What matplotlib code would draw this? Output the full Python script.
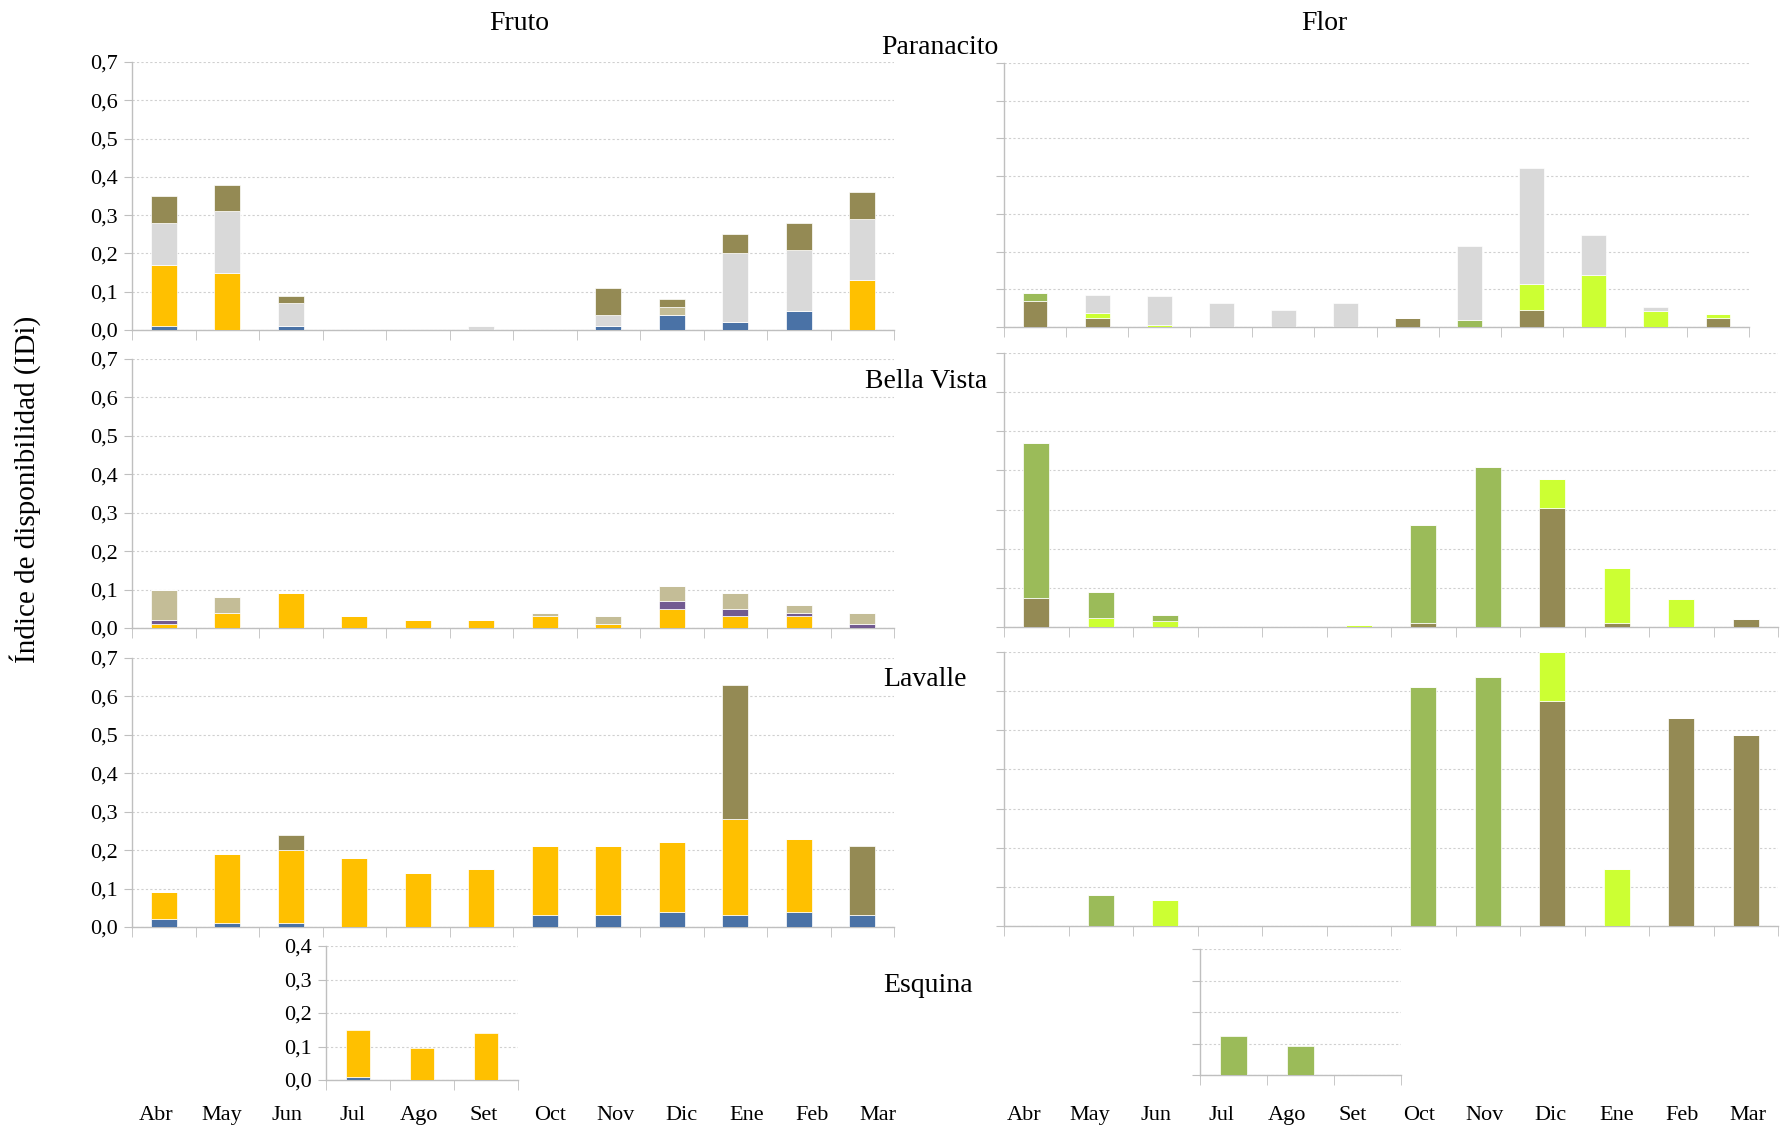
import matplotlib.pyplot as plt

FONT = ['Liberation Serif', 'DejaVu Serif']
plt.rcParams['font.family'] = FONT

meses = ['Abr', 'May', 'Jun', 'Jul', 'Ago', 'Set', 'Oct', 'Nov', 'Dic', 'Ene', 'Feb', 'Mar']
meses_esquina = ['Jul', 'Ago', 'Set']

# Fruto: stacked bottom -> top: azul, amarillo, violeta, beige, gris, oliva
par_fr_azul = [0.01, 0, 0.01, 0, 0, 0, 0, 0.01, 0.04, 0.02, 0.05, 0]
par_fr_amarillo = [0.16, 0.15, 0, 0, 0, 0, 0, 0, 0, 0, 0, 0.13]
par_fr_violeta = [0] * 12
par_fr_beige = [0, 0, 0, 0, 0, 0, 0, 0, 0.02, 0, 0, 0]
par_fr_gris = [0.11, 0.16, 0.06, 0, 0, 0.01, 0, 0.03, 0, 0.18, 0.16, 0.16]
par_fr_oliva = [0.07, 0.07, 0.02, 0, 0, 0, 0, 0.07, 0.02, 0.05, 0.07, 0.07]

bv_fr_azul = [0] * 12
bv_fr_amarillo = [0.01, 0.04, 0.09, 0.03, 0.02, 0.02, 0.03, 0.01, 0.05, 0.03, 0.03, 0]
bv_fr_violeta = [0.01, 0, 0, 0, 0, 0, 0, 0, 0.02, 0.02, 0.01, 0.01]
bv_fr_beige = [0.08, 0.04, 0, 0, 0, 0, 0.01, 0.02, 0.04, 0.04, 0.02, 0.03]
bv_fr_gris = [0] * 12
bv_fr_oliva = [0] * 12

lav_fr_azul = [0.02, 0.01, 0.01, 0, 0, 0, 0.03, 0.03, 0.04, 0.03, 0.04, 0.03]
lav_fr_amarillo = [0.07, 0.18, 0.19, 0.18, 0.14, 0.15, 0.18, 0.18, 0.18, 0.25, 0.19, 0]
lav_fr_violeta = [0] * 12
lav_fr_beige = [0] * 12
lav_fr_gris = [0] * 12
lav_fr_oliva = [0, 0, 0.04, 0, 0, 0, 0, 0, 0, 0.35, 0, 0.18]

esq_fr_azul = [0.01, 0, 0]
esq_fr_amarillo = [0.14, 0.095, 0.14]

# Flor: stacked bottom -> top: oliva, lima, verde, gris
par_fl_oliva = [0.068, 0.024, 0, 0, 0, 0, 0.024, 0, 0.046, 0, 0, 0.024]
par_fl_lima = [0, 0.014, 0.005, 0, 0, 0, 0, 0, 0.067, 0.137, 0.043, 0.011]
par_fl_verde = [0.023, 0, 0, 0, 0, 0, 0, 0.019, 0, 0, 0, 0]
par_fl_gris = [0, 0.048, 0.078, 0.064, 0.044, 0.064, 0, 0.196, 0.308, 0.107, 0.009, 0]

bv_fl_oliva = [0.073, 0, 0, 0, 0, 0, 0.01, 0, 0.303, 0.01, 0, 0.02]
bv_fl_lima = [0, 0.022, 0.016, 0, 0, 0.004, 0, 0, 0.076, 0.141, 0.071, 0]
bv_fl_verde = [0.397, 0.067, 0.014, 0, 0, 0, 0.25, 0.408, 0, 0, 0, 0]
bv_fl_gris = [0] * 12

lav_fl_oliva = [0, 0, 0, 0, 0, 0, 0, 0, 0.576, 0, 0.531, 0.487]
lav_fl_lima = [0, 0, 0.067, 0, 0, 0, 0, 0, 0.124, 0.146, 0, 0]
lav_fl_verde = [0, 0.078, 0, 0, 0, 0, 0.61, 0.635, 0, 0, 0, 0]
lav_fl_gris = [0] * 12

esq_fl_verde = [0.125, 0.093, 0]

col_fruto = ['#4A72A6', '#FFC000', '#725A91', '#C4BD97', '#D9D9D9', '#948A54']
col_flor = ['#948A54', '#CCFF33', '#9BBB59', '#D9D9D9']

W, H = 1782, 1127
fig = plt.figure(figsize=(W / 100, H / 100), dpi=100)


def px_axes(x0, x1, ytop, ybot):
    return fig.add_axes([x0 / W, 1 - ybot / H, (x1 - x0) / W, (ybot - ytop) / H])


def stacked(ax, cats, series, colors, ymax, labels=True, width=0.41):
    x = list(range(len(cats)))
    bottom = [0.0] * len(cats)
    for vals, c in zip(series, colors):
        ax.bar(x, vals, width, bottom=bottom, color=c, edgecolor='white',
               linewidth=0.5, zorder=3)
        bottom = [b + v for b, v in zip(bottom, vals)]
    ax.set_xlim(-0.5, len(cats) - 0.5)
    ax.set_ylim(0, ymax)
    n = int(round(ymax * 10))
    ticks = [i / 10 for i in range(n + 1)]
    ax.set_yticks(ticks)
    if labels:
        ax.set_yticklabels([('%.1f' % t).replace('.', ',') for t in ticks],
                           fontsize=16)
    else:
        ax.set_yticklabels([])
    ax.set_xticks(x)
    ax.set_xticklabels([])
    ax.set_xticks([i - 0.5 for i in range(len(cats) + 1)], minor=True)
    ax.tick_params(axis='x', which='major', length=0)
    ax.tick_params(axis='x', which='minor', length=7, color='#BFBFBF')
    ax.tick_params(axis='y', length=6, color='#BFBFBF', pad=4)
    ax.grid(axis='y', linestyle=(0, (2, 2)), color='#D0D0D0', linewidth=0.8,
            zorder=0)
    for s in ['top', 'right']:
        ax.spines[s].set_visible(False)
    for s in ['left', 'bottom']:
        ax.spines[s].set_color('#BFBFBF')
        ax.spines[s].set_linewidth(1.0)
    ax.patch.set_alpha(0)


# Fruto column
ax = px_axes(132, 894, 62, 330)
stacked(ax, meses, [par_fr_azul, par_fr_amarillo, par_fr_violeta, par_fr_beige,
                    par_fr_gris, par_fr_oliva], col_fruto, 0.7)
ax = px_axes(132, 894, 359, 628)
stacked(ax, meses, [bv_fr_azul, bv_fr_amarillo, bv_fr_violeta, bv_fr_beige,
                    bv_fr_gris, bv_fr_oliva], col_fruto, 0.7)
ax = px_axes(132, 894, 658, 927)
stacked(ax, meses, [lav_fr_azul, lav_fr_amarillo, lav_fr_violeta, lav_fr_beige,
                    lav_fr_gris, lav_fr_oliva], col_fruto, 0.7)
ax = px_axes(326, 518, 946, 1080)
stacked(ax, meses_esquina, [esq_fr_azul, esq_fr_amarillo], col_fruto[:2], 0.4,
        width=0.39)

# Flor column
ax = px_axes(1004, 1749, 63, 327)
stacked(ax, meses, [par_fl_oliva, par_fl_lima, par_fl_verde, par_fl_gris],
        col_flor, 0.7, labels=False, width=0.40)
ax = px_axes(1004, 1778, 353, 627)
stacked(ax, meses, [bv_fl_oliva, bv_fl_lima, bv_fl_verde, bv_fl_gris],
        col_flor, 0.7, labels=False, width=0.40)
ax = px_axes(1004, 1778, 652, 926)
stacked(ax, meses, [lav_fl_oliva, lav_fl_lima, lav_fl_verde, lav_fl_gris],
        col_flor, 0.7, labels=False, width=0.40)
ax = px_axes(1200, 1401, 949, 1075)
stacked(ax, meses_esquina, [esq_fl_verde], [col_flor[2]], 0.4, labels=False,
        width=0.40)

# month labels under each column
for x0, x1 in [(123, 911), (991, 1781)]:
    lab = px_axes(x0, x1, 1098, 1100)
    lab.set_xlim(-0.5, 11.5)
    lab.set_xticks(range(len(meses)))
    lab.set_xticklabels(meses, fontsize=16)
    lab.tick_params(axis='x', length=0, pad=4)
    lab.set_yticks([])
    for s in lab.spines.values():
        s.set_visible(False)
    lab.patch.set_alpha(0)

fig.text(519 / W, 1 - 23 / H, 'Fruto', fontsize=20, ha='center', va='center')
fig.text(1324 / W, 1 - 23 / H, 'Flor', fontsize=20, ha='center', va='center')
fig.text(881 / W, 1 - 47 / H, 'Paranacito', fontsize=20, ha='left', va='center')
fig.text(865 / W, 1 - 381 / H, 'Bella Vista', fontsize=20, ha='left', va='center')
fig.text(883 / W, 1 - 680 / H, 'Lavalle', fontsize=20, ha='left', va='center')
fig.text(883 / W, 1 - 986 / H, 'Esquina', fontsize=20, ha='left', va='center')
fig.text(25 / W, 1 - 489 / H, 'Índice de disponibilidad (IDi)', fontsize=21,
         rotation=90, ha='center', va='center')

fig.savefig('out.png', dpi=100)
